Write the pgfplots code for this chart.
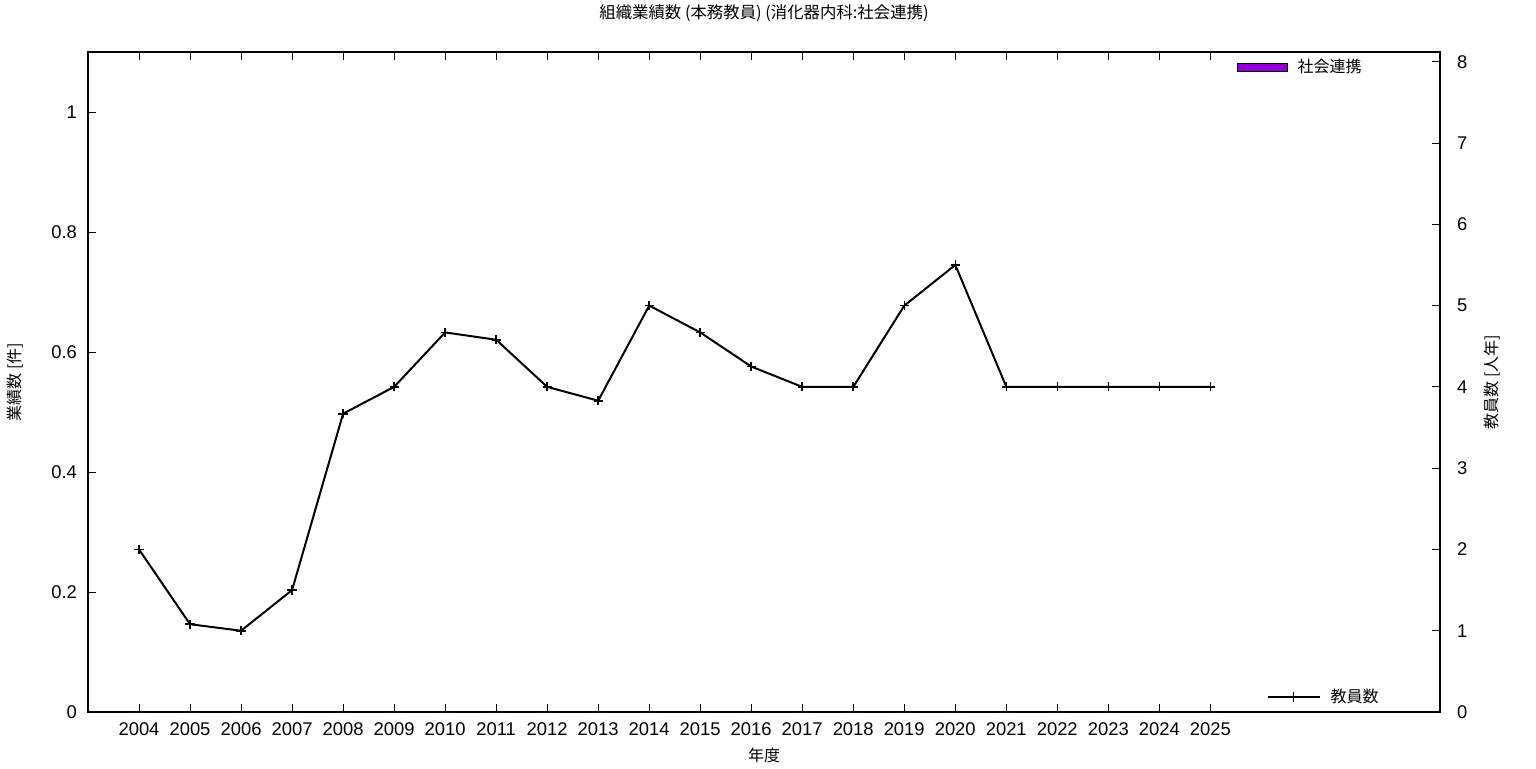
\documentclass[border=0pt]{standalone}
\usepackage{fontspec}
\setmainfont{Liberation Sans}
\newfontfamily\jp{Noto Sans CJK JP}
\usepackage{pgfplots}
\usepackage{pgfplotstable}
\pgfplotsset{compat=1.18}
\definecolor{dviolet}{HTML}{9400D3}
\pgfplotstableread{
year staff
2004 2
2005 1.08
2006 1
2007 1.5
2008 3.67
2009 4
2010 4.67
2011 4.58
2012 4
2013 3.83
2014 5
2015 4.67
2016 4.25
2017 4
2018 4
2019 5
2020 5.5
2021 4
2022 4
2023 4
2024 4
2025 4
}\staff
\pgfplotstableread{
year count
2004 0
2005 0
2006 0
2007 0
2008 0
2009 0
2010 0
2011 0
2012 0
2013 0
2014 0
2015 0
2016 0
2017 0
2018 0
2019 0
2020 0
2021 0
2022 0
2023 0
2024 0
2025 0
}\works
\begin{document}
\begin{tikzpicture}
\useasboundingbox (-44pt,-28pt) rectangle (724pt,356pt);
\pgfplotsset{
  common/.style={
    at={(0,0)}, anchor=south west, scale only axis,
    width=676pt, height=330pt,
    xmin=2003, xmax=2029.5,
    tick align=inside,
    major tick length=4pt,
    tick style={black, line width=0.5pt},
    /pgf/number format/assume math mode=true,
    tick label style={font=\fontsize{9.2}{11}\selectfont},
    axis line style={line width=0.6pt},
  }
}
\begin{axis}[common,
  ymin=0, ymax=1.1,
  xtick={2004,...,2025},
  xtick pos=both, ytick pos=left,
  ytick={0,0.2,0.4,0.6,0.8,1},
  x tick label style={/pgf/number format/1000 sep={}, yshift=-2pt},
  y tick label style={xshift=-2pt},
  title style={at={([yshift=13.5pt]axis description cs:0.5,1)}, anchor=center, font=\fontsize{8.2}{10}\selectfont\jp},
  title={組織業績数 (本務教員) (消化器内科:社会連携)},
  xlabel={年度},
  xlabel style={at={([yshift=-21.5pt]axis description cs:0.5,0)}, anchor=center, font=\fontsize{8}{10}\selectfont\jp},
  ylabel={業績数 [件]},
  ylabel style={at={([xshift=-36.5pt]axis description cs:0,0.5)}, rotate=0, anchor=center, font=\fontsize{8}{10}\selectfont\jp},
  legend style={at={(rel axis cs:0.9453,0.977)}, anchor=east, draw=none, fill=none, inner sep=0pt,
    font=\fontsize{8}{10}\selectfont\jp},
  legend cell align=left,
]
\addplot[ybar, fill=dviolet, draw=none, forget plot] table[x=year, y=count] {\works};
\addlegendimage{legend image code/.code={\draw[fill=dviolet, draw=black, line width=0.5pt] (0pt,-2pt) rectangle (25pt,2pt); \path (28pt,0pt);}}
\addlegendentry{社会連携}
\end{axis}
\begin{axis}[common,
  ymin=0, ymax=8.12,
  axis x line=none,
  axis y line*=right,
  ytick={0,1,...,8},
  y tick label style={xshift=5pt},
  ylabel={教員数 [人年]},
  ylabel style={at={([xshift=26pt]axis description cs:1,0.5)}, rotate=0, anchor=center, font=\fontsize{8}{10}\selectfont\jp},
  legend style={at={(rel axis cs:0.9578,0.0227)}, anchor=east, draw=none, fill=none, inner sep=0pt,
    font=\fontsize{8}{10}\selectfont\jp},
  legend image code/.code={\draw[#1] (0pt,0pt) -- (26pt,0pt); \draw[#1, mark repeat=1] plot coordinates {(13pt,0pt)}; \path (29pt,0pt);},
]
\addplot[black, line width=1pt, mark=+, mark size=2.3pt, mark options={line width=0.8pt}] table[x=year, y=staff] {\staff};
\addlegendentry{教員数}
\end{axis}
\end{tikzpicture}
\end{document}
